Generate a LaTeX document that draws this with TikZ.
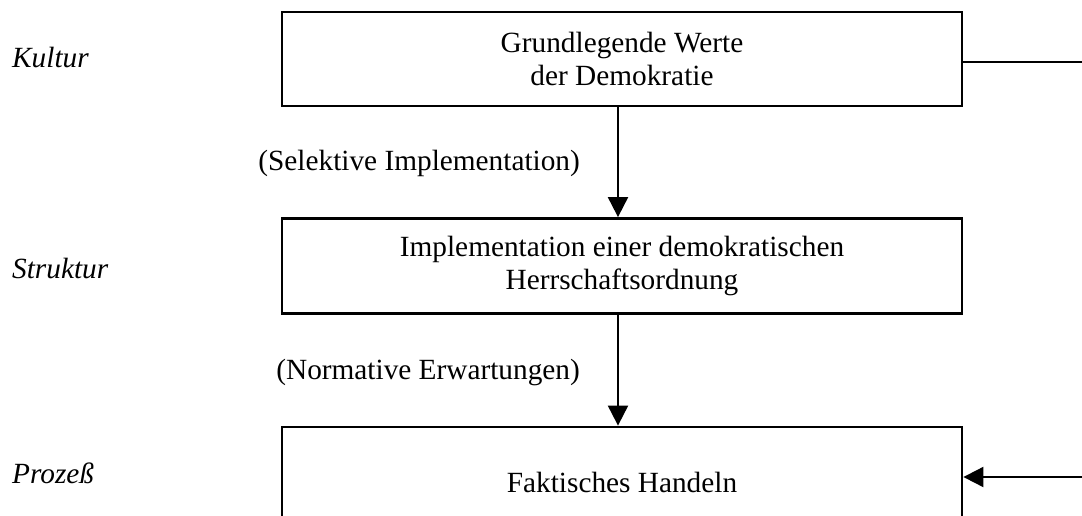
\documentclass[tikz,border=0pt]{standalone}
\usepackage{fontspec}
\setmainfont{Liberation Serif}
\usetikzlibrary{arrows.meta}
\begin{document}
\begin{tikzpicture}[x=1pt,y=-1pt,
  every node/.style={font=\fontsize{29.3}{33}\selectfont},
  levelbox/.style={draw,line width=2.8pt,minimum width=680pt,align=center,inner sep=0pt},
  side/.style={anchor=west,inner sep=0pt,font=\fontsize{29.3}{33}\selectfont\itshape},
  lbl/.style={anchor=east,inner sep=0pt},
  conn/.style={line width=2pt},
  arr/.style={conn,-{Triangle[length=20pt,width=20pt]}}]
\useasboundingbox (0,0) rectangle (1082,515);
\clip (0,0) rectangle (1082,515);
\node[levelbox,minimum height=94pt] (b1) at (622,59) {Grundlegende Werte\\der Demokratie};
\node[levelbox,minimum height=95pt] (b2) at (622,266) {Implementation einer demokratischen\\Herrschaftsordnung};
\node[levelbox,minimum height=110pt] (b3) at (622,482) {Faktisches Handeln};
\node[side] (k) at (12,58) {Kultur};
\node[side] (s) at (12,268) {Struktur};
\node[side] (p) at (12,473) {Prozeß};
\node[lbl] (l1) at (580,163) {(Selektive Implementation)};
\node[lbl] (l2) at (580,372) {(Normative Erwartungen)};
\draw[arr] ([xshift=-4pt]b1.south) -- ([xshift=-4pt]b2.north);
\draw[arr] ([xshift=-4pt]b2.south) -- ([xshift=-4pt]b3.north);
\coordinate (r1) at (1082,62);
\coordinate (r2) at (1082,477);
\draw[conn] (r1 -| b1.east) -- (r1);
\draw[arr] (r2) -- (r2 -| b3.east);
\end{tikzpicture}
\end{document}
